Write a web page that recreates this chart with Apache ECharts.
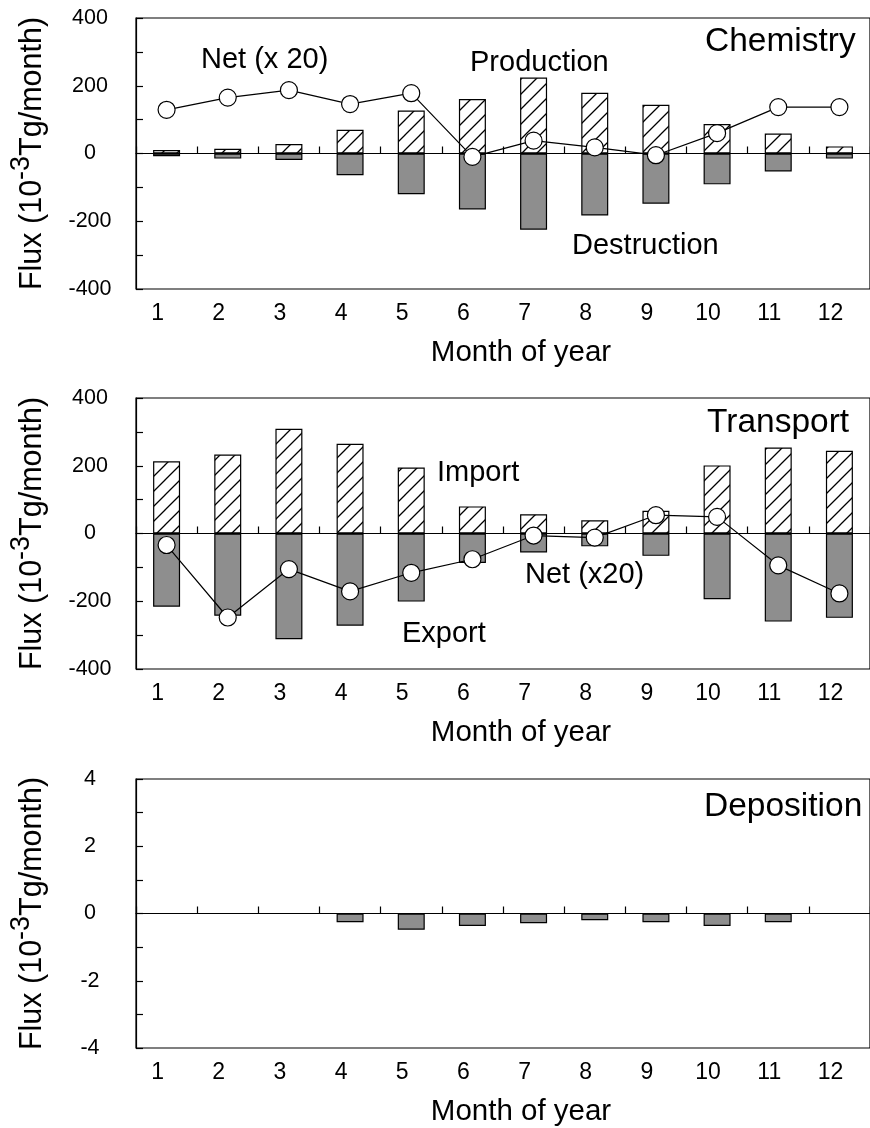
<!DOCTYPE html>
<html>
<head>
<meta charset="utf-8">
<script src="https://cdn.jsdelivr.net/npm/echarts@6/dist/echarts.min.js"></script>
<style>
html,body{margin:0;padding:0;background:#fff;}
#chart{width:870px;height:1128px;}
</style>
</head>
<body>
<div id="chart"></div>
<script>
const months = ['1','2','3','4','5','6','7','8','9','10','11','12'];
const chemProduction = [10,14,28,70,127,161,224,179,144,87,59,21];
const chemDestruction = [-8,-15,-19,-64,-120,-165,-225,-183,-148,-91,-53,-15];
const chemNet = [129,165,187,146,178,-10,38,18,-5,60,137,137];
const transImport = [213,233,309,265,195,80,57,39,67,201,254,244];
const transExport = [-216,-243,-312,-272,-201,-87,-56,-38,-66,-194,-260,-249];
const transNet = [-34,-248,-105,-171,-116,-76,-6,-12,54,49,-94,-177];
const deposition = [0,0,0,-0.26,-0.48,-0.37,-0.29,-0.2,-0.26,-0.37,-0.26,0];
const fluxTicks = [-400,-200,0,200,400];
const depTicks = [-4,-2,0,2,4];

const FONT = "'Liberation Sans', Arial, sans-serif";
const GRAY = '#8e8e8e';

// diagonal hatch pattern
function makeHatch(){
  const s = 15;
  const c = document.createElement('canvas');
  c.width = s; c.height = s;
  const g = c.getContext('2d');
  g.fillStyle = '#fff'; g.fillRect(0,0,s,s);
  g.strokeStyle = '#000'; g.lineWidth = 1.3;
  g.beginPath();
  g.moveTo(-2, s+2); g.lineTo(s+2, -2);
  g.moveTo(-2, 2); g.lineTo(2, -2);
  g.moveTo(s-2, s+2); g.lineTo(s+2, s-2);
  g.stroke();
  return {image: c, repeat: 'repeat'};
}
const hatch = makeHatch();

const grids = [
  {left:131, top:18, width:746, height:271},
  {left:131, top:398, width:746, height:271},
  {left:131, top:779, width:746, height:273}
].map(g => Object.assign({show:true, borderColor:'#000', borderWidth:1.2, backgroundColor:'transparent'}, g));

function zeroAxis(gi){
  return {type:'category', data:months, gridIndex:gi, position:'bottom',
    axisLine:{show:true, onZero:true, lineStyle:{color:'#000', width:1.2}},
    axisTick:{show:true, inside:true, length:7, lineStyle:{color:'#000', width:1.2}},
    axisLabel:{show:false}, splitLine:{show:false}};
}
function labelAxis(gi){
  return {type:'category', data:months, gridIndex:gi, position:'bottom',
    axisLine:{show:false, onZero:false}, axisTick:{show:false},
    axisLabel:{show:true, fontSize:23, fontFamily:FONT, color:'#000', margin:13, padding:[0,18,0,0]},
    name:'Month of year', nameLocation:'middle', nameGap:49,
    nameTextStyle:{fontSize:29.5, fontFamily:FONT, color:'#000', padding:[0,0,0,36]},
    splitLine:{show:false}};
}
function yAxis(gi, ticks){
  const step = (ticks[1]-ticks[0])/2;
  return {type:'value', gridIndex:gi, min:ticks[0], max:ticks[ticks.length-1], interval:step,
    axisLine:{show:true, onZero:false, lineStyle:{color:'#000', width:1.2}},
    axisTick:{show:true, inside:true, length:7, lineStyle:{color:'#000', width:1.2}},
    axisLabel:{show:false},
    splitLine:{show:false},
    name:'Flux (10{sup|-3}Tg/month)', nameLocation:'middle', nameGap:79,
    nameTextStyle:{fontSize:30.5, fontFamily:FONT, color:'#000',
      rich:{sup:{fontSize:27, fontFamily:FONT, color:'#000', padding:[0,0,22,0]}}}
  };
}

const barBorder = {borderColor:'#000', borderWidth:1.2};
function barSeries(name, data, gi, color){
  return {name, type:'bar', data, xAxisIndex:gi*2, yAxisIndex:gi, barWidth:27, barGap:'-100%',
    itemStyle:Object.assign({color}, barBorder), silent:true, animation:false};
}
function netSeries(name, data, gi){
  return {name, type:'line', data, xAxisIndex:gi*2, yAxisIndex:gi, symbol:'circle', symbolSize:17,
    itemStyle:{color:'#fff', borderColor:'#000', borderWidth:1.2},
    lineStyle:{color:'#000', width:1.2}, z:5, animation:false};
}

function txt(text, x, y, size, align){
  return {type:'text', x, y, z:100, style:{text, fontSize:size, fontFamily:FONT, fill:'#000',
    align:align || 'left', verticalAlign:'middle'}};
}

const annotations = [
  txt('Net (x 20)', 201, 60, 29),
  txt('Production', 470, 63, 29),
  txt('Chemistry', 705, 42, 33.5),
  txt('Destruction', 572, 246, 29),
  txt('Transport', 707, 423, 33.5),
  txt('Import', 437, 473, 29),
  txt('Net (x20)', 525, 575, 29),
  txt('Export', 402, 634, 29),
  txt('Deposition', 704, 807, 33.5)
];

const option = {
  animation:false,
  backgroundColor:'#fff',
  grid: grids,
  xAxis: [zeroAxis(0), labelAxis(0), zeroAxis(1), labelAxis(1), zeroAxis(2), labelAxis(2)],
  yAxis: [yAxis(0, fluxTicks), yAxis(1, fluxTicks), yAxis(2, depTicks)],
  series: [
    barSeries('Production', chemProduction, 0, hatch),
    barSeries('Destruction', chemDestruction, 0, GRAY),
    netSeries('Net (x 20)', chemNet, 0),
    barSeries('Import', transImport, 1, hatch),
    barSeries('Export', transExport, 1, GRAY),
    netSeries('Net (x20)', transNet, 1),
    barSeries('Deposition', deposition, 2, GRAY)
  ],
  graphic: annotations
};

const chart = echarts.init(document.getElementById('chart'), null, {renderer:'canvas', width:870, height:1128});
chart.setOption(option);

// y tick labels, centred (Excel style), positioned through the axis scale
const tickLabels = [];
[[0, fluxTicks], [1, fluxTicks], [2, depTicks]].forEach(([gi, ticks]) => {
  ticks.forEach(t => {
    const y = chart.convertToPixel({yAxisIndex: gi}, t);
    tickLabels.push(txt(String(t), 90, y, 21.5, 'center'));
  });
});
chart.setOption({graphic: annotations.concat(tickLabels)});
</script>
</body>
</html>
